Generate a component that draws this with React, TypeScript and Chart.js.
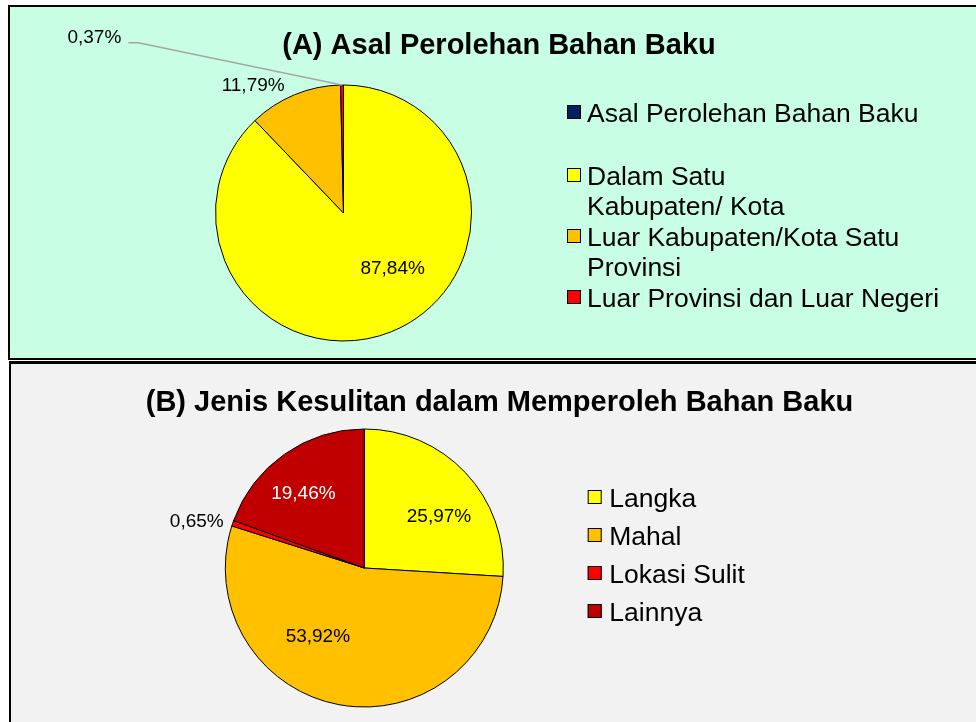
import React, { useEffect, useRef } from "react";
import { Chart, registerables } from "chart.js";

Chart.register(...registerables);

// ---------- data ----------
const titleA = "(A) Asal Perolehan Bahan Baku";
const seriesNameA = "Asal Perolehan Bahan Baku";
const categoriesA = [
  "Dalam Satu\nKabupaten/ Kota",
  "Luar Kabupaten/Kota Satu\nProvinsi",
  "Luar Provinsi dan Luar Negeri",
];
const valuesA = [87.84, 11.79, 0.37];
const colorsA = ["#FFFF00", "#FFC000", "#FF0000"];
const seriesColorA = "#002060";

const titleB = "(B) Jenis Kesulitan dalam Memperoleh Bahan Baku";
const categoriesB = ["Langka", "Mahal", "Lokasi Sulit", "Lainnya"];
const valuesB = [25.97, 53.92, 0.65, 19.46];
const colorsB = ["#FFFF00", "#FFC000", "#FF0000", "#C00000"];

// ---------- drawing helpers ----------
const FONT = '"Liberation Sans", Arial, Helvetica, sans-serif';

const overlayPlugin = {
  id: "overlay",
  afterDatasetsDraw(chart: any, _args: any, opts: any) {
    const ctx: CanvasRenderingContext2D = chart.ctx;
    const meta = chart.getDatasetMeta(0);
    const values: number[] = chart.data.datasets[0].data;
    ctx.save();

    // title
    ctx.font = `bold ${opts.titleSize}px ${FONT}`;
    ctx.fillStyle = "#000";
    ctx.textAlign = "center";
    ctx.textBaseline = "alphabetic";
    ctx.fillText(opts.title, opts.titleX, opts.titleY);

    // data labels
    ctx.font = `${opts.labelSize}px ${FONT}`;
    ctx.textBaseline = "middle";
    meta.data.forEach((arc: any, i: number) => {
      const p = arc.getProps(["x", "y", "startAngle", "endAngle", "outerRadius"], true);
      const place = opts.labelPlace[i];
      const mid = (p.startAngle + p.endAngle) / 2;
      const ang = mid + (place.shift * Math.PI) / 180;
      const r = p.outerRadius * place.r;
      const lx = p.x + Math.cos(ang) * r;
      const ly = p.y + Math.sin(ang) * r;
      const text = values[i].toFixed(2).replace(".", ",") + "%";
      if (place.leader) {
        const w = ctx.measureText(text).width;
        const ex = p.x + Math.cos(mid) * p.outerRadius;
        const ey = p.y + Math.sin(mid) * p.outerRadius;
        ctx.strokeStyle = "#a6a6a6";
        ctx.lineWidth = 1.5;
        ctx.beginPath();
        ctx.moveTo(lx + w / 2 + 7, ly + 5);
        ctx.lineTo(lx + w / 2 + 17, ly + 5);
        ctx.lineTo(ex, ey);
        ctx.stroke();
      }
      ctx.fillStyle = place.color || "#000";
      ctx.textAlign = "center";
      ctx.fillText(text, lx, ly);
    });

    // legend
    const lg = opts.legend;
    ctx.font = `${lg.size}px ${FONT}`;
    ctx.textAlign = "left";
    ctx.textBaseline = "alphabetic";
    const drawEntry = (lines: string[], color: string, y: number) => {
      ctx.fillStyle = color;
      ctx.fillRect(lg.x, y - 16.5, 14, 14);
      ctx.strokeStyle = "#000";
      ctx.lineWidth = 1;
      ctx.strokeRect(lg.x + 0.5, y - 16.5 + 0.5, 13, 13);
      ctx.fillStyle = "#000";
      lines.forEach((ln, k) => ctx.fillText(ln, lg.textX, y + k * lg.lineStep));
      return y + (lines.length - 1) * lg.lineStep + lg.itemStep;
    };
    if (lg.header) drawEntry([lg.header.text], lg.header.color, lg.header.y);
    let y = lg.startY;
    const labels: string[] = chart.data.labels;
    labels.forEach((lab, i) => {
      y = drawEntry(lab.split("\n"), chart.data.datasets[0].backgroundColor[i], y);
    });

    ctx.restore();
  },
};

function makePie(
  canvas: HTMLCanvasElement,
  labels: string[],
  values: number[],
  colors: string[],
  radius: number,
  padding: any,
  overlay: any
) {
  return new Chart(canvas, {
    type: "pie",
    data: {
      labels,
      datasets: [
        {
          data: values,
          backgroundColor: colors,
          borderColor: "#000",
          borderWidth: 1,
          radius,
        } as any,
      ],
    },
    options: {
      responsive: false,
      animation: false,
      events: [],
      layout: { padding },
      plugins: {
        legend: { display: false },
        tooltip: { enabled: false },
        title: { display: false },
        overlay,
      } as any,
    },
    plugins: [overlayPlugin as any],
  });
}

export default function App() {
  const refA = useRef<HTMLCanvasElement>(null);
  const refB = useRef<HTMLCanvasElement>(null);

  useEffect(() => {
    const chartA = makePie(
      refA.current!,
      categoriesA,
      valuesA,
      colorsA,
      128,
      { left: 205, top: 77.5, right: 504, bottom: 16.5 },
      {
        title: titleA,
        titleSize: 29,
        titleX: 489,
        titleY: 46.5,
        labelSize: 19,
        labelPlace: [
          { shift: -19.6, r: 0.58 },
          { shift: -12.8, r: 1.22 },
          { shift: -54.2, r: 2.38, leader: true },
        ],
        legend: {
          size: 26.5,
          x: 557,
          textX: 577,
          header: { text: seriesNameA, color: seriesColorA, y: 114.5 },
          startY: 177.5,
          lineStep: 30.5,
          itemStep: 30.5,
        },
      }
    );
    const chartB = makePie(
      refB.current!,
      categoriesB,
      valuesB,
      colorsB,
      139,
      { left: 213.8, top: 65.5, right: 472.2, bottom: 14.5 },
      {
        title: titleB,
        titleSize: 29,
        titleX: 488.5,
        titleY: 48,
        labelSize: 19,
        labelPlace: [
          { shift: 9, r: 0.65 },
          { shift: 23.3, r: 0.6 },
          { shift: -3.35, r: 1.25 },
          { shift: -4.4, r: 0.69, color: "#fff" },
        ],
        legend: {
          size: 26.5,
          x: 576.7,
          textX: 598.3,
          startY: 143.5,
          lineStep: 38,
          itemStep: 38,
        },
      }
    );
    return () => {
      chartA.destroy();
      chartB.destroy();
    };
  }, []);

  return (
    <div
      style={{
        position: "fixed",
        left: 0,
        top: 0,
        width: 976,
        height: 722,
        overflow: "hidden",
        background: "#fff",
      }}
    >
      <div
        style={{
          position: "absolute",
          left: 8,
          top: 5,
          width: 990,
          height: 355,
          boxSizing: "border-box",
          border: "2px solid #000",
          background: "rgb(200,255,228)",
        }}
      />
      <div
        style={{
          position: "absolute",
          left: 9,
          top: 361,
          width: 990,
          height: 400,
          boxSizing: "border-box",
          border: "2px solid #000",
          borderTopWidth: 3,
          background: "#f2f2f2",
        }}
      />
      <canvas
        ref={refA}
        width={966}
        height={351}
        style={{ position: "absolute", left: 10, top: 7, width: 966, height: 351 }}
      />
      <canvas
        ref={refB}
        width={965}
        height={359}
        style={{ position: "absolute", left: 11, top: 363, width: 965, height: 359 }}
      />
    </div>
  );
}
